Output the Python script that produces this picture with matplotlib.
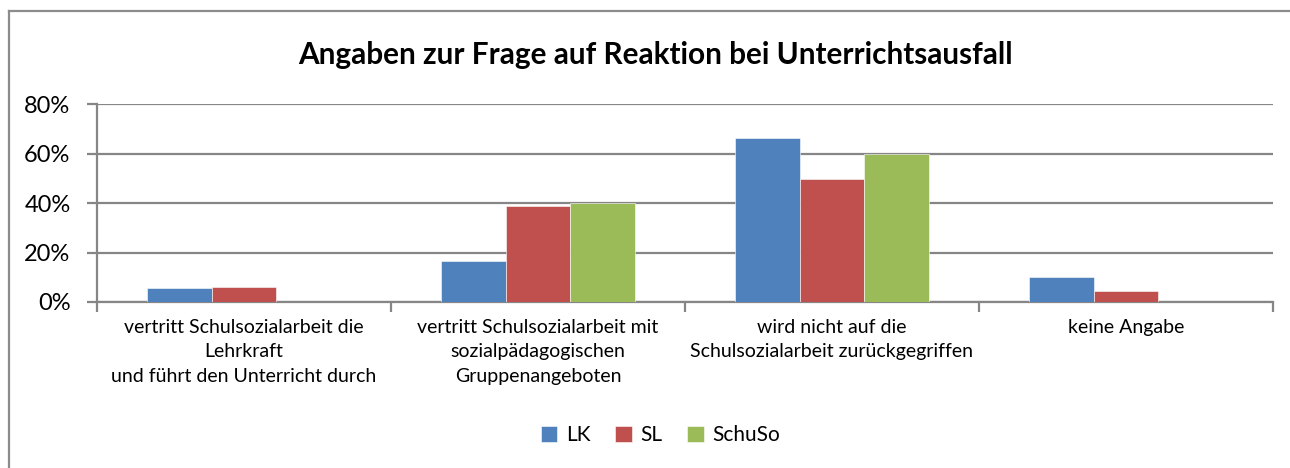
import matplotlib
matplotlib.use("Agg")
import matplotlib.pyplot as plt
from matplotlib.lines import Line2D
import numpy as np

plt.rcParams.update({"font.family": ["Lato", "DejaVu Sans"]})

categories = [
    "vertritt Schulsozialarbeit die\nLehrkraft\nund führt den Unterricht durch",
    "vertritt Schulsozialarbeit mit\nsozialpädagogischen\nGruppenangeboten",
    "wird nicht auf die\nSchulsozialarbeit zurückgegriffen",
    "keine Angabe",
]
series = ["LK", "SL", "SchuSo"]
lk = [5.8, 16.7, 66.3, 10.1]
sl = [6.1, 38.7, 49.7, 4.6]
schuso = [0.0, 40.0, 60.0, 0.0]
colors = ["#4F81BD", "#C0504D", "#9BBB59"]
yticks = [0, 20, 40, 60, 80]

fig = plt.figure(figsize=(12.9, 4.68), dpi=100)
ax = fig.add_axes([97/1290, 1 - 302/468, 1176/1290, 198/468])

x = np.arange(len(categories))
w = 0.221
for i, (vals, name, c) in enumerate(zip([lk, sl, schuso], series, colors)):
    ax.bar(x + (i - 1) * w, vals, w, color=c, label=name, zorder=3,
           edgecolor="white", linewidth=0.4)

ax.set_xlim(-0.5, len(categories) - 0.5)
ax.set_ylim(0, 80)
ax.set_yticks(yticks)
ax.set_yticklabels([f"{t}%" for t in yticks], fontsize=17)
ax.yaxis.grid(True, color="#868686", linewidth=1.6, zorder=0)
ax.set_axisbelow(True)

# category labels sit between the tick marks at the group boundaries
ax.set_xticks(x)
ax.set_xticklabels(categories, fontsize=14, linespacing=1.55)
ax.tick_params(axis="x", length=0, pad=12)
ax.set_xticks(np.arange(-0.5, len(categories)), minor=True)
ax.tick_params(axis="x", which="minor", length=7, width=1.6, color="#868686")
ax.tick_params(axis="y", length=7, width=1.6, color="#868686", pad=12)

for s in ["top", "right"]:
    ax.spines[s].set_visible(False)
for s in ["left", "bottom"]:
    ax.spines[s].set_color("#868686")
    ax.spines[s].set_linewidth(1.6)

fig.text(0.508, 1 - 55/468, "Angaben zur Frage auf Reaktion bei Unterrichtsausfall",
         ha="center", va="center", fontsize=21.4, fontweight="bold")

fig.legend(loc="center", bbox_to_anchor=(0.512, 1 - 435/468), ncol=3, frameon=False,
           fontsize=15, handlelength=0.8, handleheight=0.8, handletextpad=0.4,
           columnspacing=1.2)

# chart frame (only top and left edges fall inside the image)
fig.add_artist(Line2D([9/1290, 9/1290], [0, 1 - 11/468], color="#8c8c8c", linewidth=1.6))
fig.add_artist(Line2D([9/1290, 1], [1 - 11/468, 1 - 11/468], color="#8c8c8c", linewidth=1.6))

fig.savefig("out.png", dpi=100, facecolor="white")
